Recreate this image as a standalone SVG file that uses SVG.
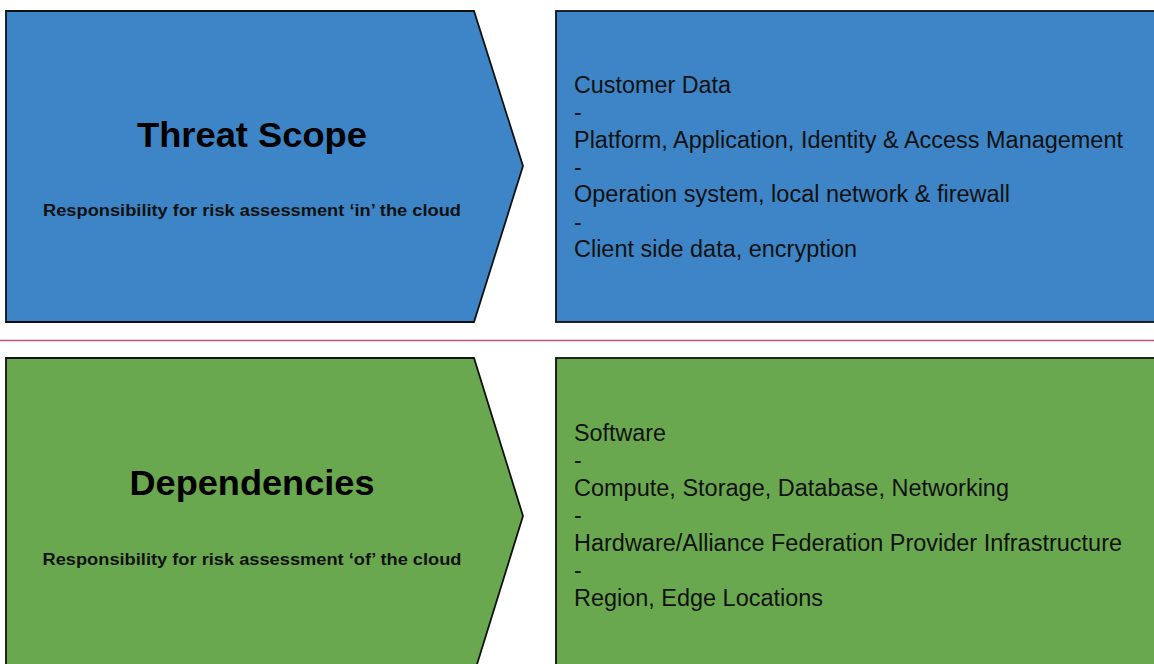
<svg xmlns="http://www.w3.org/2000/svg" width="1154" height="664" viewBox="0 0 1154 664">
<style>
.blue{fill:#3d85c6;stroke:#111;stroke-width:1.8}
.green{fill:#6aa84f;stroke:#111;stroke-width:1.8}
.title{font-family:"Liberation Sans",Arial,sans-serif;font-weight:bold;font-size:35px;fill:#000;text-anchor:middle}
.sub{font-family:"Liberation Sans",Arial,sans-serif;font-weight:bold;font-size:16px;fill:#111;text-anchor:middle}
.item{font-family:"Liberation Sans",Arial,sans-serif;font-size:23px;fill:#111}
</style>
<rect width="1154" height="664" fill="#fff"/>
<g id="threat-scope">
<polygon class="blue" points="6,11 474,11 523,166 474,322 6,322"/>
<text class="title" x="252" y="147" textLength="230" lengthAdjust="spacingAndGlyphs">Threat Scope</text>
<text class="sub" x="252" y="216" textLength="418" lengthAdjust="spacingAndGlyphs">Responsibility for risk assessment ‘in’ the cloud</text>
</g>
<g id="threat-scope-items">
<rect class="blue" x="556" y="11" width="610" height="311"/>
<text class="item" x="574" y="93" textLength="157" lengthAdjust="spacingAndGlyphs">Customer Data</text>
<text class="item" x="574" y="120">-</text>
<text class="item" x="574" y="148" textLength="549" lengthAdjust="spacingAndGlyphs">Platform, Application, Identity &amp; Access Management</text>
<text class="item" x="574" y="175">-</text>
<text class="item" x="574" y="202" textLength="436" lengthAdjust="spacingAndGlyphs">Operation system, local network &amp; firewall</text>
<text class="item" x="574" y="230">-</text>
<text class="item" x="574" y="257" textLength="283" lengthAdjust="spacingAndGlyphs">Client side data, encryption</text>
</g>
<g id="connectors">
<line x1="0" y1="340.5" x2="1154" y2="340.5" stroke="#b8527f" stroke-width="1.6"/>
</g>
<g id="dependencies">
<polygon class="green" points="6,358 474,358 523,516 474,674 6,674"/>
<text class="title" x="252" y="495" textLength="245" lengthAdjust="spacingAndGlyphs">Dependencies</text>
<text class="sub" x="252" y="565" textLength="419" lengthAdjust="spacingAndGlyphs">Responsibility for risk assessment ‘of’ the cloud</text>
</g>
<g id="dependencies-items">
<rect class="green" x="556" y="358" width="610" height="320"/>
<text class="item" x="574" y="441" textLength="92" lengthAdjust="spacingAndGlyphs">Software</text>
<text class="item" x="574" y="468">-</text>
<text class="item" x="574" y="496" textLength="435" lengthAdjust="spacingAndGlyphs">Compute, Storage, Database, Networking</text>
<text class="item" x="574" y="523">-</text>
<text class="item" x="574" y="551" textLength="548" lengthAdjust="spacingAndGlyphs">Hardware/Alliance Federation Provider Infrastructure</text>
<text class="item" x="574" y="578">-</text>
<text class="item" x="574" y="606" textLength="249" lengthAdjust="spacingAndGlyphs">Region, Edge Locations</text>
</g>
</svg>
